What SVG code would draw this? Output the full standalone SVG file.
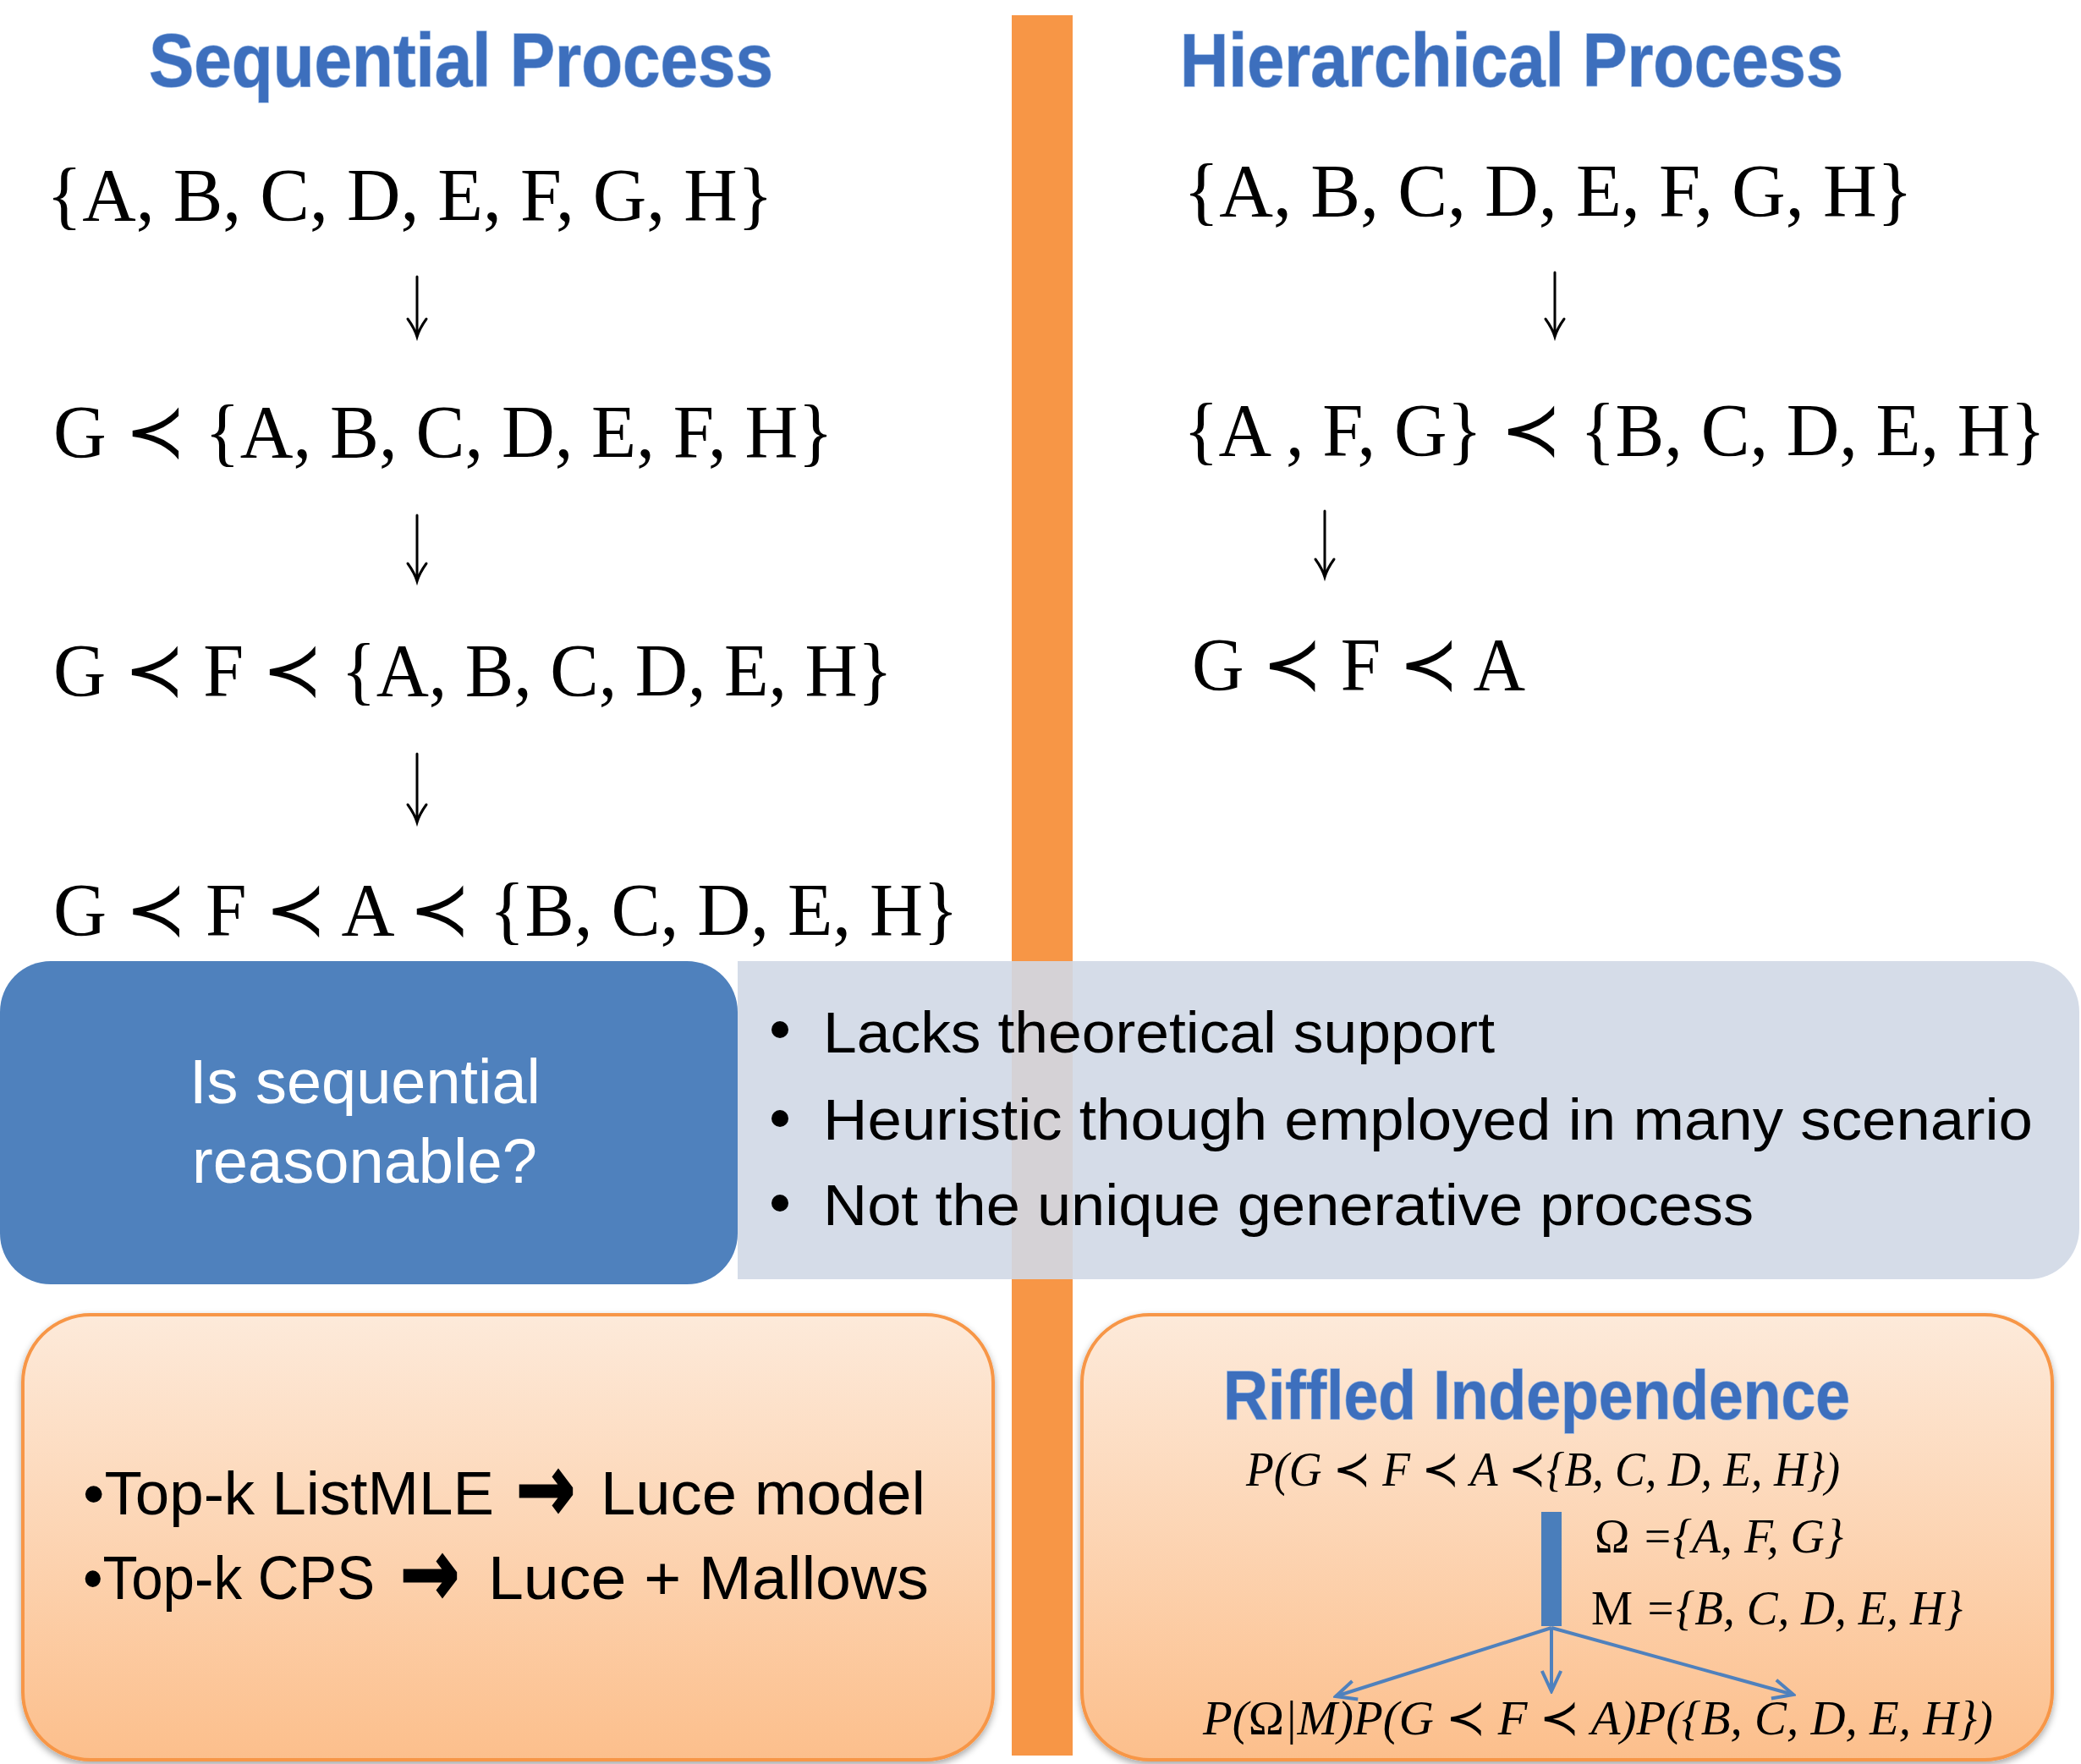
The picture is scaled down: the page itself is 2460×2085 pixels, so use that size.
<svg xmlns="http://www.w3.org/2000/svg" width="2460" height="2085" viewBox="0 0 2460 2085">
<style>
.title{font-family:"Liberation Sans",Arial,sans-serif;font-weight:bold;fill:#3D6FBD;stroke:#8FB2E2;stroke-width:1.5;paint-order:stroke}
.math{font-family:"Liberation Serif","DejaVu Serif","DejaVu Sans",serif;font-size:88px;fill:#000}
.imath{font-family:"Liberation Serif","DejaVu Serif","DejaVu Sans",serif;font-style:italic;fill:#000}
.body{font-family:"Liberation Sans",Arial,sans-serif;fill:#000}
.arr{font-family:"DejaVu Sans",sans-serif;font-weight:bold;fill:#000;stroke:#000;stroke-width:3}
.white{font-family:"Liberation Sans",Arial,sans-serif;fill:#fff}
.down{fill:none;stroke:#000;stroke-width:3;stroke-linecap:round}
.blue{fill:none;stroke:#4F81BD;stroke-width:4}
</style>
<defs>
<linearGradient id="og" x1="0" y1="0" x2="0" y2="1">
<stop offset="0" stop-color="#FDEADA"/>
<stop offset="1" stop-color="#FCBF8C"/>
</linearGradient>
<filter id="sh" x="-5%" y="-5%" width="110%" height="115%">
<feDropShadow dx="0" dy="4" stdDeviation="4" flood-color="#000" flood-opacity="0.35"/>
</filter>
<marker id="ah" viewBox="0 0 20 20" refX="18" refY="10" markerWidth="32" markerHeight="32" markerUnits="userSpaceOnUse" orient="auto">
<path d="M3,3 L18,10 L3,17" fill="none" stroke="#4F81BD" stroke-width="2.5"/>
</marker>
</defs>
<rect width="2460" height="2085" fill="#fff"/>

<g id="divider">
<rect x="1196" y="18" width="72" height="2057" fill="#F79646"/>
</g>

<g id="title-sequential">
<text class="title" x="176" y="102" font-size="89" textLength="738" lengthAdjust="spacingAndGlyphs">Sequential Process</text>
</g>
<g id="title-hierarchical">
<text class="title" x="1395" y="102" font-size="89" textLength="784" lengthAdjust="spacingAndGlyphs">Hierarchical Process</text>
</g>

<g id="seq-1"><text class="math" x="55" y="260" textLength="859" lengthAdjust="spacingAndGlyphs">{A, B, C, D, E, F, G, H}</text></g>
<g id="seq-2"><text class="math" x="63" y="540" textLength="922" lengthAdjust="spacingAndGlyphs">G ≺ {A, B, C, D, E, F, H}</text></g>
<g id="seq-3"><text class="math" x="63" y="822" textLength="992" lengthAdjust="spacingAndGlyphs">G ≺ F ≺ {A, B, C, D, E, H}</text></g>
<g id="seq-4"><text class="math" x="63" y="1105" textLength="1070" lengthAdjust="spacingAndGlyphs">G ≺ F ≺ A ≺ {B, C, D, E, H}</text></g>

<g id="hier-1"><text class="math" x="1399" y="255" textLength="862" lengthAdjust="spacingAndGlyphs">{A, B, C, D, E, F, G, H}</text></g>
<g id="hier-2"><text class="math" x="1399" y="538" textLength="1019" lengthAdjust="spacingAndGlyphs">{A , F, G} ≺ {B, C, D, E, H}</text></g>
<g id="hier-3"><text class="math" x="1409" y="815" textLength="394" lengthAdjust="spacingAndGlyphs">G ≺ F ≺ A</text></g>

<g id="gray-box">
<path d="M872,1136 H2398 A60,60 0 0 1 2458,1196 V1452 A60,60 0 0 1 2398,1512 H872 Z" fill="#D0D8E5" fill-opacity="0.9"/>
<circle cx="922" cy="1217" r="10" fill="#000"/>
<circle cx="922" cy="1322" r="10" fill="#000"/>
<circle cx="922" cy="1422" r="10" fill="#000"/>
<text class="body" x="973" y="1244" font-size="68" textLength="794" lengthAdjust="spacingAndGlyphs">Lacks theoretical support</text>
<text class="body" x="973" y="1347" font-size="68" textLength="1430" lengthAdjust="spacingAndGlyphs">Heuristic though employed in many scenario</text>
<text class="body" x="973" y="1448" font-size="68" textLength="1100" lengthAdjust="spacingAndGlyphs">Not the unique generative process</text>
</g>

<g id="blue-box">
<rect x="0" y="1136" width="872" height="382" rx="60" ry="60" fill="#4F81BD"/>
<text class="white" x="224" y="1304" font-size="75" textLength="415" lengthAdjust="spacingAndGlyphs">Is sequential</text>
<text class="white" x="227" y="1398" font-size="75" textLength="408" lengthAdjust="spacingAndGlyphs">reasonable?</text>
</g>

<g id="topk-box">
<rect x="27" y="1554" width="1147" height="526" rx="80" ry="80" fill="url(#og)" stroke="#F79646" stroke-width="4" filter="url(#sh)"/>
<text class="body" x="98" y="1790" font-size="72" textLength="486" lengthAdjust="spacingAndGlyphs">•Top-k ListMLE</text>
<text class="arr" x="610" y="1797" font-size="110" textLength="70" lengthAdjust="spacingAndGlyphs">→</text>
<text class="body" x="710" y="1790" font-size="72" textLength="384" lengthAdjust="spacingAndGlyphs">Luce model</text>
<text class="body" x="98" y="1890" font-size="72" textLength="345" lengthAdjust="spacingAndGlyphs">•Top-k CPS</text>
<text class="arr" x="473" y="1897" font-size="110" textLength="70" lengthAdjust="spacingAndGlyphs">→</text>
<text class="body" x="577" y="1890" font-size="72" textLength="521" lengthAdjust="spacingAndGlyphs">Luce + Mallows</text>
</g>

<g id="riffled-box">
<rect x="1279" y="1554" width="1147" height="526" rx="80" ry="80" fill="url(#og)" stroke="#F79646" stroke-width="4" filter="url(#sh)"/>
<text class="title" x="1446" y="1677" font-size="81" textLength="741" lengthAdjust="spacingAndGlyphs">Riffled Independence</text>
<text class="imath" x="1473" y="1756" font-size="58" textLength="702" lengthAdjust="spacingAndGlyphs">P(G ≺ F ≺ A ≺{B, C, D, E, H})</text>
<rect x="1822" y="1787" width="24" height="135" fill="#4A7EBB"/>
<text class="imath" x="1885" y="1835" font-size="56" textLength="294" lengthAdjust="spacingAndGlyphs"><tspan font-style="normal">Ω</tspan> ={A, F, G}</text>
<text class="imath" x="1881" y="1920" font-size="56" textLength="439" lengthAdjust="spacingAndGlyphs"><tspan font-style="normal">M</tspan> ={B, C, D, E, H}</text>
<text class="imath" x="1422" y="2050" font-size="58" textLength="934" lengthAdjust="spacingAndGlyphs">P(<tspan font-style="normal">Ω</tspan>|M)P(G ≺ F ≺ A)P({B, C, D, E, H})</text>
</g>

<g id="connectors">
<path class="down" d="M493,327 V398 M482,377 Q490,388 493,398 Q496,388 504,377"/>
<path class="down" d="M493,609 V687 M482,666 Q490,677 493,687 Q496,677 504,666"/>
<path class="down" d="M493,891 V972 M482,951 Q490,962 493,972 Q496,962 504,951"/>
<path class="down" d="M1838,322 V398 M1827,377 Q1835,388 1838,398 Q1841,388 1849,377"/>
<path class="down" d="M1566,604 V682 M1555,661 Q1563,672 1566,682 Q1569,672 1577,661"/>
<line class="blue" x1="1834" y1="1924" x2="1579" y2="2005" marker-end="url(#ah)"/>
<line class="blue" x1="1834" y1="1924" x2="1834" y2="1999" marker-end="url(#ah)"/>
<line class="blue" x1="1834" y1="1924" x2="2120" y2="2003" marker-end="url(#ah)"/>
</g>
</svg>
